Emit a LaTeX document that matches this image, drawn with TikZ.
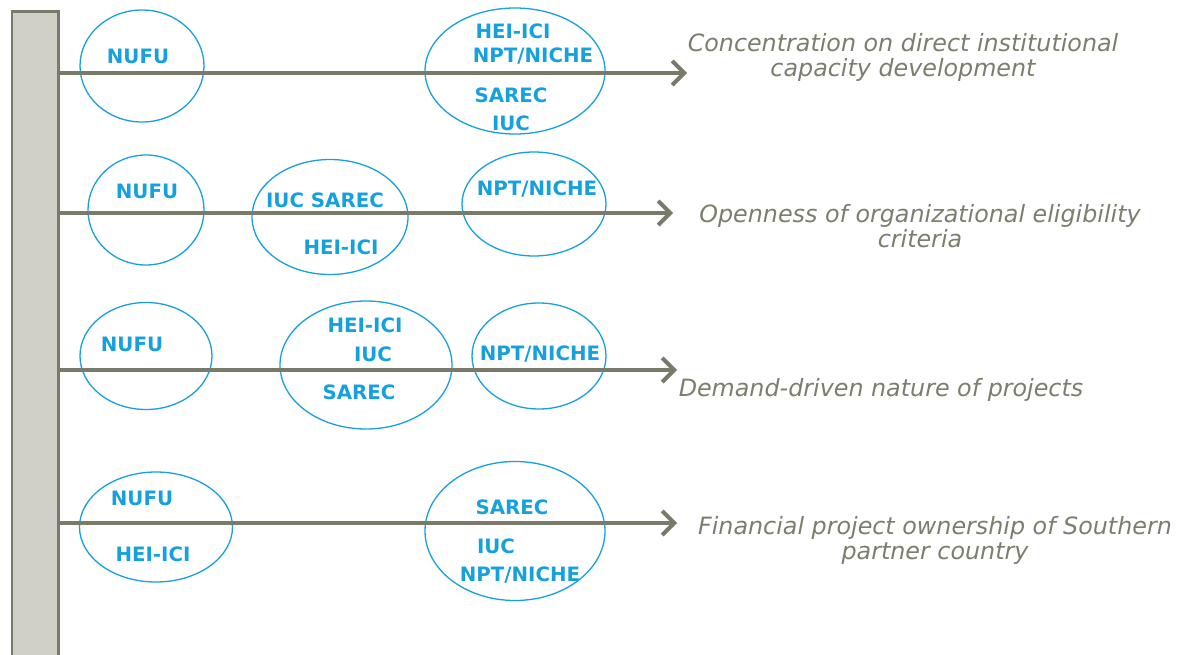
\documentclass[tikz,border=0pt]{standalone}
\usepackage{fontspec}
\setmainfont{DejaVu Sans}
\usetikzlibrary{arrows.meta,shapes.geometric}
\definecolor{cblue}{RGB}{22,160,222}
\definecolor{cgray}{RGB}{125,125,110}
\definecolor{cline}{RGB}{122,122,106}
\definecolor{cbar}{RGB}{208,208,200}
\tikzset{
  oval/.style={draw=cblue,line width=1.3pt,ellipse,inner sep=0pt,minimum width=#1},
  prog/.style={font=\fontsize{19.8}{22}\selectfont\bfseries,text=cblue,inner sep=0pt,anchor=center},
  crit/.style={font=\fontsize{23.8}{25}\selectfont\itshape,text=cgray,align=center,inner sep=0pt,anchor=center},
  arr/.style={draw=cline,line width=4pt,-{Straight Barb[length=12pt,width=24pt,line width=4pt]}}
}
\begin{document}
\begin{tikzpicture}[x=1pt,y=-1pt]
\useasboundingbox (0,0) rectangle (1183,655);
% bar
\node[draw=cline,fill=cbar,line width=2.6pt,minimum width=46.5pt,minimum height=680pt,inner sep=0pt,anchor=north west] (bar) at (10.5,10.5) {};
% row 1 ellipses
\node[oval=124pt,minimum height=112pt] (e11) at (142,66) {};
\node[oval=180pt,minimum height=126pt] (e12) at (515,71) {};
% row 2
\node[oval=116pt,minimum height=110pt] (e21) at (146,210) {};
\node[oval=156pt,minimum height=115pt] (e22) at (330,217) {};
\node[oval=144pt,minimum height=104pt] (e23) at (534,204) {};
% row 3
\node[oval=132pt,minimum height=107pt] (e31) at (146,356) {};
\node[oval=172pt,minimum height=128pt] (e32) at (366,365) {};
\node[oval=134pt,minimum height=106pt] (e33) at (539,356) {};
% row 4
\node[oval=153pt,minimum height=110pt] (e41) at (156,527) {};
\node[oval=180pt,minimum height=139pt] (e42) at (515,531) {};
% arrows
\coordinate (s1) at (60,73); \coordinate (t1) at (687,73);
\coordinate (s2) at (60,213); \coordinate (t2) at (673,213);
\coordinate (s3) at (60,370); \coordinate (t3) at (677,370);
\coordinate (s4) at (60,523); \coordinate (t4) at (677,523);
\draw[arr] (s1) -- (t1);
\draw[arr] (s2) -- (t2);
\draw[arr] (s3) -- (t3);
\draw[arr] (s4) -- (t4);
% labels row 1
\node[prog] (l11) at (138,56) {NUFU};
\node[prog] (l12) at (513,31) {HEI-ICI};
\node[prog] (l13) at (533,56) {NPT/NICHE};
\node[prog] (l14) at (511,95) {SAREC};
\node[prog] (l15) at (511,123) {IUC};
% row 2
\node[prog] (l21) at (147,191) {NUFU};
\node[prog] (l22) at (325,200) {IUC SAREC};
\node[prog] (l23) at (341,247) {HEI-ICI};
\node[prog] (l24) at (537,189) {NPT/NICHE};
% row 3
\node[prog] (l31) at (132,344) {NUFU};
\node[prog] (l32) at (365,325) {HEI-ICI};
\node[prog] (l33) at (373,354) {IUC};
\node[prog] (l34) at (359,392) {SAREC};
\node[prog] (l35) at (540,354) {NPT/NICHE};
% row 4
\node[prog] (l41) at (142,498) {NUFU};
\node[prog] (l42) at (153,554) {HEI-ICI};
\node[prog] (l43) at (512,507) {SAREC};
\node[prog] (l44) at (496,546) {IUC};
\node[prog] (l45) at (520,575) {NPT/NICHE};
% criteria
\node[crit] (c1) at (903,57) {Concentration on direct institutional\\capacity development};
\node[crit] (c2) at (920,226) {Openness of organizational eligibility\\criteria};
\node[crit] (c3) at (881,390) {Demand-driven nature of projects};
\node[crit] (c4) at (935,540) {Financial project ownership of Southern\\partner country};
\end{tikzpicture}
\end{document}
